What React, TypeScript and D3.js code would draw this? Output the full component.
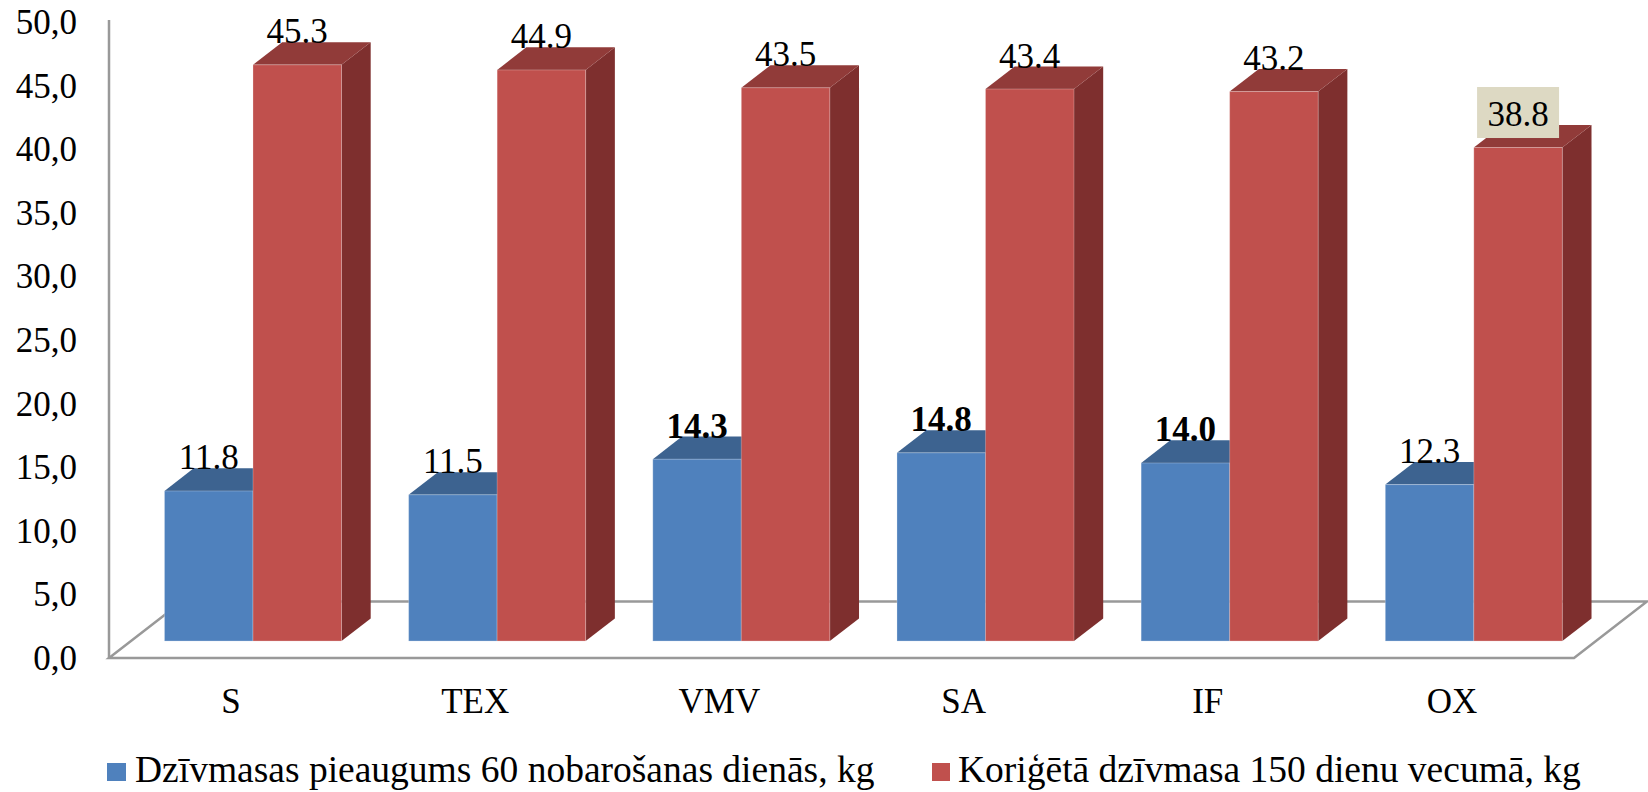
import React from "react"
import * as d3 from "d3"

// chart values
const categories = ["S", "TEX", "VMV", "SA", "IF", "OX"]
const gain60 = [11.8, 11.5, 14.3, 14.8, 14.0, 12.3]
const weight150 = [45.3, 44.9, 43.5, 43.4, 43.2, 38.8]
const seriesNames = [
  "Dzīvmasas pieaugums 60 nobarošanas dienās, kg",
  "Koriģētā dzīvmasa 150 dienu vecumā, kg",
]
const yTickValues = [0, 5, 10, 15, 20, 25, 30, 35, 40, 45, 50]
// which data labels are printed bold / boxed in the original
const boldGain = ["VMV", "SA", "IF"]
const boxedWeight = ["OX"]

const W = 1648
const H = 792
const FONT = "'Liberation Serif', 'Times New Roman', serif"

// floor front edge, and the depth vector of the 3d floor
const floorLeft = 109
const floorRight = 1574
const floorY = 658
const DX = 73
const DY = -56.5
const front = 0.3 // bars sit between 30% and 70% of the depth
const depth = 0.4

const colors = [
  { front: "#4F81BD", top: "#3D6390", side: "#2F4F74" },
  { front: "#C0504D", top: "#913B39", side: "#7E2F2E" },
]

export default function App() {
  const x0 = d3.scaleBand<string>()
    .domain(categories)
    .range([floorLeft, floorRight])
    .paddingInner(0.275)
    .paddingOuter(0.1375)
  const x1 = d3.scaleBand<number>()
    .domain([0, 1])
    .range([0, x0.bandwidth()])
  const y = d3.scaleLinear().domain([0, 50]).range([floorY, 22])

  const series = [gain60, weight150]

  const fdx = front * DX
  const fdy = front * DY
  const ddx = depth * DX
  const ddy = depth * DY

  const pts = (p: number[][]) => p.map(d => d.join(",")).join(" ")

  const bars: any[] = []
  const labels: any[] = []
  categories.forEach((c, i) => {
    series.forEach((vals, s) => {
      const v = vals[i]
      const xl = (x0(c) as number) + (x1(s) as number) + fdx
      const xr = xl + x1.bandwidth()
      const yt = y(v) + fdy
      const yb = y(0) + fdy
      const col = colors[s]
      bars.push(
        <g key={c + s}>
          <polygon
            points={pts([[xr, yt], [xr + ddx, yt + ddy], [xr + ddx, yb + ddy], [xr, yb]])}
            fill={col.side}
          />
          <polygon
            points={pts([[xl, yt], [xr, yt], [xr + ddx, yt + ddy], [xl + ddx, yt + ddy]])}
            fill={col.top}
          />
          <rect x={xl} y={yt} width={xr - xl} height={yb - yt} fill={col.front}
            stroke="rgba(255,255,255,0.25)" strokeWidth={1} />
        </g>
      )
      const cx = (xl + xr) / 2
      const base = yt - 21.5
      const bold = s === 0 && boldGain.includes(c)
      const boxed = s === 1 && boxedWeight.includes(c)
      labels.push(
        <g key={"l" + c + s}>
          {boxed && (
            <rect x={cx - 41} y={base - 39} width={82} height={51} fill="#DDD9C3" />
          )}
          <text x={cx} y={base} textAnchor="middle" fontSize={35}
            fontWeight={bold ? "bold" : "normal"} fontFamily={FONT} fill="#000">
            {v.toFixed(1)}
          </text>
        </g>
      )
    })
  })

  return (
    <svg width={W} height={H} style={{ position: "absolute", left: 0, top: 0, background: "#fff" }}>
      {/* floor and left edge */}
      <polygon
        points={pts([[floorLeft, floorY], [floorRight, floorY], [floorRight + DX, floorY + DY], [floorLeft + DX, floorY + DY]])}
        fill="none" stroke="#999" strokeWidth={2.5}
      />
      <line x1={floorLeft} x2={floorLeft} y1={20} y2={floorY} stroke="#999" strokeWidth={2.5} />

      {/* y tick labels */}
      {yTickValues.map(t => (
        <text key={t} x={77} y={y(t) + 12} textAnchor="end" fontSize={35} fontFamily={FONT}>
          {t.toFixed(1).replace(".", ",")}
        </text>
      ))}

      {bars}
      {labels}

      {/* category labels */}
      {categories.map(c => (
        <text key={c} x={(x0(c) as number) - x0.step() * 0.1375 + x0.step() / 2} y={713}
          textAnchor="middle" fontSize={35} fontFamily={FONT}>
          {c}
        </text>
      ))}

      {/* legend */}
      <rect x={107} y={763} width={19} height={18} fill={colors[0].front} />
      <text x={135} y={782} fontSize={37.5} fontFamily={FONT}>{seriesNames[0]}</text>
      <rect x={932} y={763} width={18} height={18} fill={colors[1].front} />
      <text x={958} y={782} fontSize={37.5} fontFamily={FONT}>{seriesNames[1]}</text>
    </svg>
  )
}
